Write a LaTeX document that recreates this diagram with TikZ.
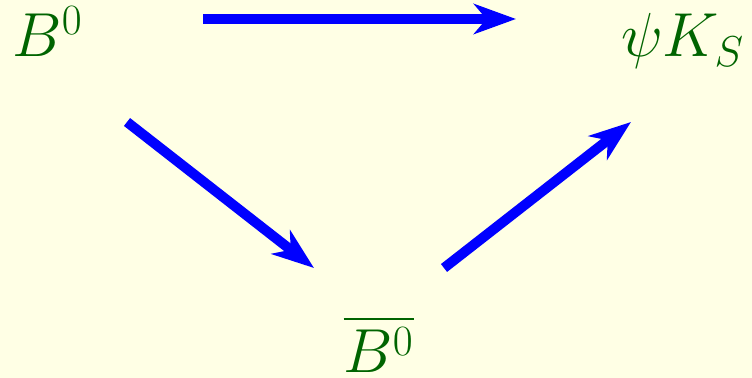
\documentclass[tikz,border=0pt]{standalone}
\usepackage{amsmath}
\usepackage{amssymb}
\usepackage{tikz}
\usetikzlibrary{arrows.meta, positioning}
\usepackage{xcolor}
\definecolor{paper}{RGB}{255,255,229}
\definecolor{mesongreen}{RGB}{0,100,0}

\begin{document}
\begin{tikzpicture}[x=0.4pt, y=-0.4pt,
  flow/.style={blue, line width=4pt, -{Stealth[length=16.8pt, width=12pt, inset=5pt]}},
  meson/.style={text=mesongreen, inner sep=0pt, font=\fontsize{23.5}{28}\selectfont}]
\fill[paper] (0,0) rectangle (752,378);
\useasboundingbox (0,0) rectangle (752,378);

% the three states
\node[meson, anchor=base west] (b0) at (12,57) {$B^0$};
\node[meson, anchor=base east] (psik) at (745,57) {$\psi K_S$};
\node[meson, anchor=base west] (b0bar) at (343,373) {$\overline{B^0}$};

% arrow ends
\coordinate (b0-r) at (203,19);
\coordinate (psik-l) at (516,19);
\coordinate (b0-d) at (127,122);
\coordinate (b0bar-l) at (314,268);
\coordinate (b0bar-r) at (444,268);
\coordinate (psik-d) at (631,122);

\draw[flow] (b0-r) -- (psik-l);
\draw[flow] (b0-d) -- (b0bar-l);
\draw[flow] (b0bar-r) -- (psik-d);
\end{tikzpicture}
\end{document}
